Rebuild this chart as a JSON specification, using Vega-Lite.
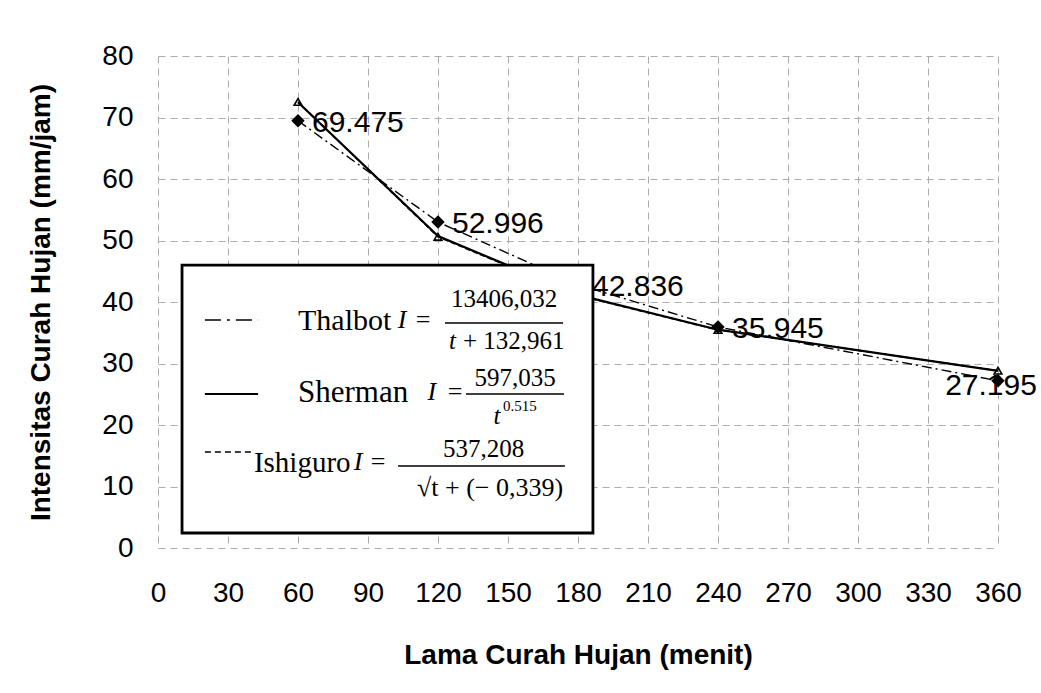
{
  "$schema": "https://vega.github.io/schema/vega-lite/v6.json",
  "width": 840,
  "height": 492,
  "autosize": "none",
  "padding": {"left": 158, "top": 56, "right": 43, "bottom": 145},
  "background": "white",
  "config": {
    "view": {"stroke": null},
    "axis": {
      "domain": false,
      "ticks": false,
      "tickSize": 0,
      "grid": true,
      "gridColor": "#ababab",
      "gridDash": [7, 5],
      "gridWidth": 1,
      "labelFont": "Liberation Sans",
      "labelFontSize": 28,
      "labelColor": "black",
      "labelOverlap": false,
      "labelFlush": false,
      "titleFont": "Liberation Sans",
      "titleFontWeight": "bold",
      "titleFontSize": 28,
      "titleColor": "black"
    },
    "axisX": {"labelPadding": 31, "titlePadding": 34},
    "axisY": {"labelPadding": 25, "titlePadding": 46}
  },
  "datasets": {
    "obs": [
      {"t": 60, "I": 69.475},
      {"t": 120, "I": 52.996},
      {"t": 180, "I": 42.836},
      {"t": 240, "I": 35.945},
      {"t": 360, "I": 27.195}
    ],
    "curves": [
      {"series": "Thalbot", "t": 60, "I": 69.476},
      {"series": "Thalbot", "t": 120, "I": 52.996},
      {"series": "Thalbot", "t": 180, "I": 42.836},
      {"series": "Thalbot", "t": 240, "I": 35.945},
      {"series": "Thalbot", "t": 360, "I": 27.195},
      {"series": "Sherman", "t": 60, "I": 72.486},
      {"series": "Sherman", "t": 120, "I": 50.725},
      {"series": "Sherman", "t": 180, "I": 41.166},
      {"series": "Sherman", "t": 240, "I": 35.497},
      {"series": "Sherman", "t": 360, "I": 28.807},
      {"series": "Ishiguro", "t": 60, "I": 72.527},
      {"series": "Ishiguro", "t": 120, "I": 50.607},
      {"series": "Ishiguro", "t": 180, "I": 41.079},
      {"series": "Ishiguro", "t": 240, "I": 35.452},
      {"series": "Ishiguro", "t": 360, "I": 28.828}
    ]
  },
  "layer": [
    {
      "data": {"name": "curves"},
      "transform": [{"filter": "datum.series === 'Thalbot'"}],
      "mark": {"type": "line", "color": "black", "strokeWidth": 1.4, "strokeDash": [10, 4, 2, 4]},
      "encoding": {
        "x": {"field": "t", "type": "quantitative", "scale": {"domain": [0, 360], "nice": false, "zero": false},
          "axis": {"title": "Lama Curah Hujan (menit)", "values": [0, 30, 60, 90, 120, 150, 180, 210, 240, 270, 300, 330, 360]}},
        "y": {"field": "I", "type": "quantitative", "scale": {"domain": [0, 80], "nice": false},
          "axis": {"title": "Intensitas Curah Hujan (mm/jam)", "values": [0, 10, 20, 30, 40, 50, 60, 70, 80]}}
      }
    },
    {
      "data": {"name": "curves"},
      "transform": [{"filter": "datum.series === 'Sherman'"}],
      "mark": {"type": "line", "color": "black", "strokeWidth": 2.2},
      "encoding": {
        "x": {"field": "t", "type": "quantitative", "title": "Lama Curah Hujan (menit)"},
        "y": {"field": "I", "type": "quantitative", "title": "Intensitas Curah Hujan (mm/jam)"}
      }
    },
    {
      "data": {"name": "curves"},
      "transform": [{"filter": "datum.series === 'Ishiguro'"}],
      "mark": {"type": "line", "color": "black", "strokeWidth": 1.6, "strokeDash": [5, 3]},
      "encoding": {
        "x": {"field": "t", "type": "quantitative", "title": "Lama Curah Hujan (menit)"},
        "y": {"field": "I", "type": "quantitative", "title": "Intensitas Curah Hujan (mm/jam)"}
      }
    },
    {
      "data": {"name": "curves"},
      "transform": [{"filter": "datum.series === 'Ishiguro'"}],
      "mark": {"type": "point", "shape": "triangle-up", "filled": false, "color": "black", "size": 60, "strokeWidth": 1.6, "opacity": 1},
      "encoding": {
        "x": {"field": "t", "type": "quantitative", "title": "Lama Curah Hujan (menit)"},
        "y": {"field": "I", "type": "quantitative", "title": "Intensitas Curah Hujan (mm/jam)"}
      }
    },
    {
      "data": {"name": "obs"},
      "mark": {"type": "point", "shape": "diamond", "filled": true, "color": "black", "size": 180, "opacity": 1},
      "encoding": {
        "x": {"field": "t", "type": "quantitative", "title": "Lama Curah Hujan (menit)"},
        "y": {"field": "I", "type": "quantitative", "title": "Intensitas Curah Hujan (mm/jam)"}
      }
    },
    {
      "data": {"name": "obs"},
      "transform": [{"filter": "datum.t < 360"}],
      "mark": {"type": "text", "align": "left", "baseline": "middle", "dx": 14, "dy": 2, "font": "Liberation Sans", "fontSize": 30, "color": "black"},
      "encoding": {
        "x": {"field": "t", "type": "quantitative", "title": "Lama Curah Hujan (menit)"},
        "y": {"field": "I", "type": "quantitative", "title": "Intensitas Curah Hujan (mm/jam)"},
        "text": {"field": "I", "type": "quantitative", "format": ".3f"}
      }
    },
    {
      "data": {"name": "obs"},
      "transform": [{"filter": "datum.t >= 360"}],
      "mark": {"type": "text", "align": "center", "baseline": "middle", "dx": -7, "dy": 5, "font": "Liberation Sans", "fontSize": 30, "color": "black"},
      "encoding": {
        "x": {"field": "t", "type": "quantitative", "title": "Lama Curah Hujan (menit)"},
        "y": {"field": "I", "type": "quantitative", "title": "Intensitas Curah Hujan (mm/jam)"},
        "text": {"field": "I", "type": "quantitative", "format": ".3f"}
      }
    },
    {
      "data": {"values": [{"k": 1}]},
      "layer": [
        {
          "mark": {"type": "rect", "fill": "white", "stroke": "black", "strokeWidth": 2.8},
          "encoding": {"x": {"datum": 10.3}, "x2": {"datum": 186.4}, "y": {"datum": 46.0}, "y2": {"datum": 2.44}}
        },
        {
          "mark": {"type": "rule", "color": "black", "strokeWidth": 1.5, "strokeDash": [16, 6, 3, 6]},
          "encoding": {"x": {"datum": 20.1}, "x2": {"datum": 42.9}, "y": {"datum": 37.07}}
        },
        {
          "mark": {"type": "rule", "color": "black", "strokeWidth": 2.2},
          "encoding": {"x": {"datum": 20.1}, "x2": {"datum": 42.9}, "y": {"datum": 25.04}}
        },
        {
          "mark": {"type": "rule", "color": "black", "strokeWidth": 1.6, "strokeDash": [6, 4]},
          "encoding": {"x": {"datum": 20.1}, "x2": {"datum": 40.3}, "y": {"datum": 15.61}}
        },
        {
          "mark": {"type": "text", "text": "Thalbot", "align": "left", "baseline": "alphabetic", "font": "Liberation Serif", "fontSize": 30, "color": "black"},
          "encoding": {"x": {"datum": 60}, "y": {"datum": 35.45}}
        },
        {
          "mark": {"type": "text", "text": "I", "align": "center", "baseline": "alphabetic", "font": "Liberation Serif", "fontStyle": "italic", "fontSize": 26, "color": "black"},
          "encoding": {"x": {"datum": 104.6}, "y": {"datum": 35.77}}
        },
        {
          "mark": {"type": "text", "text": "=", "align": "center", "baseline": "alphabetic", "font": "Liberation Serif", "fontSize": 26, "color": "black"},
          "encoding": {"x": {"datum": 113.6}, "y": {"datum": 35.77}}
        },
        {
          "mark": {"type": "text", "text": "13406,032", "align": "center", "baseline": "alphabetic", "font": "Liberation Serif", "fontSize": 25, "color": "black"},
          "encoding": {"x": {"datum": 148.3}, "y": {"datum": 39.19}}
        },
        {
          "mark": {"type": "rule", "color": "black", "strokeWidth": 1.5},
          "encoding": {"x": {"datum": 123.0}, "x2": {"datum": 173.6}, "y": {"datum": 36.59}}
        },
        {
          "mark": {"type": "text", "text": "t", "align": "left", "baseline": "alphabetic", "font": "Liberation Serif", "fontStyle": "italic", "fontSize": 25, "color": "black"},
          "encoding": {"x": {"datum": 124.7}, "y": {"datum": 32.36}}
        },
        {
          "mark": {"type": "text", "text": "+ 132,961", "align": "left", "baseline": "alphabetic", "font": "Liberation Serif", "fontSize": 25, "color": "black"},
          "encoding": {"x": {"datum": 130.7}, "y": {"datum": 32.36}}
        },
        {
          "mark": {"type": "text", "text": "Sherman", "align": "left", "baseline": "alphabetic", "font": "Liberation Serif", "fontSize": 31, "color": "black"},
          "encoding": {"x": {"datum": 60}, "y": {"datum": 23.74}}
        },
        {
          "mark": {"type": "text", "text": "I", "align": "center", "baseline": "alphabetic", "font": "Liberation Serif", "fontStyle": "italic", "fontSize": 26, "color": "black"},
          "encoding": {"x": {"datum": 117.4}, "y": {"datum": 24.07}}
        },
        {
          "mark": {"type": "text", "text": "=", "align": "center", "baseline": "alphabetic", "font": "Liberation Serif", "fontSize": 26, "color": "black"},
          "encoding": {"x": {"datum": 127.3}, "y": {"datum": 24.07}}
        },
        {
          "mark": {"type": "text", "text": "597,035", "align": "center", "baseline": "alphabetic", "font": "Liberation Serif", "fontSize": 25, "color": "black"},
          "encoding": {"x": {"datum": 153.0}, "y": {"datum": 26.34}}
        },
        {
          "mark": {"type": "rule", "color": "black", "strokeWidth": 1.5},
          "encoding": {"x": {"datum": 132.0}, "x2": {"datum": 174.0}, "y": {"datum": 25.04}}
        },
        {
          "mark": {"type": "text", "text": "t", "align": "center", "baseline": "alphabetic", "font": "Liberation Serif", "fontStyle": "italic", "fontSize": 25, "color": "black"},
          "encoding": {"x": {"datum": 145.3}, "y": {"datum": 20.16}}
        },
        {
          "mark": {"type": "text", "text": "0.515", "align": "left", "baseline": "alphabetic", "font": "Liberation Serif", "fontSize": 15, "color": "black"},
          "encoding": {"x": {"datum": 147.9}, "y": {"datum": 22.28}}
        },
        {
          "mark": {"type": "text", "text": "Ishiguro", "align": "left", "baseline": "alphabetic", "font": "Liberation Serif", "fontSize": 29, "color": "black"},
          "encoding": {"x": {"datum": 41.1}, "y": {"datum": 12.36}}
        },
        {
          "mark": {"type": "text", "text": "I", "align": "center", "baseline": "alphabetic", "font": "Liberation Serif", "fontStyle": "italic", "fontSize": 26, "color": "black"},
          "encoding": {"x": {"datum": 85.8}, "y": {"datum": 12.7}}
        },
        {
          "mark": {"type": "text", "text": "=", "align": "center", "baseline": "alphabetic", "font": "Liberation Serif", "fontSize": 26, "color": "black"},
          "encoding": {"x": {"datum": 94.3}, "y": {"datum": 12.7}}
        },
        {
          "mark": {"type": "text", "text": "537,208", "align": "center", "baseline": "alphabetic", "font": "Liberation Serif", "fontSize": 25, "color": "black"},
          "encoding": {"x": {"datum": 139.5}, "y": {"datum": 14.8}}
        },
        {
          "mark": {"type": "rule", "color": "black", "strokeWidth": 1.5},
          "encoding": {"x": {"datum": 102.9}, "x2": {"datum": 174.4}, "y": {"datum": 13.33}}
        },
        {
          "mark": {"type": "text", "text": "√t + (− 0,339)", "align": "center", "baseline": "alphabetic", "font": "Liberation Serif", "fontSize": 26, "color": "black"},
          "encoding": {"x": {"datum": 142.3}, "y": {"datum": 8.46}}
        }
      ]
    }
  ]
}
